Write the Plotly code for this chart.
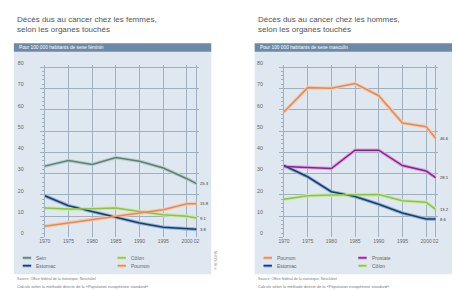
import plotly.graph_objects as go

W, H = 453, 290

# ---------------- data ----------------
years = [1970, 1975, 1980, 1985, 1990, 1995, 2000, 2002]
tick_years = [1970, 1975, 1980, 1985, 1990, 1995, 2000, 2002]
tick_text = ["1970", "1975", "1980", "1985", "1990", "1995", "2000", "02"]
y_ticks = [0, 10, 20, 30, 40, 50, 60, 70, 80]

# Femmes (pour 100 000 habitants de sexe féminin)
sein_f = [33.5, 36.1, 34.3, 37.5, 35.8, 32.6, 27.6, 25.3]
estomac_f = [19.6, 14.9, 12.2, 9.5, 6.8, 4.8, 4.1, 3.8]
colon_f = [13.8, 13.3, 13.5, 13.8, 12.2, 10.7, 10.0, 9.1]
poumon_f = [5.3, 6.8, 8.4, 9.9, 11.5, 13.0, 15.8, 15.8]

# Hommes (pour 100 000 habitants de sexe masculin)
poumon_m = [58.9, 70.4, 70.1, 72.3, 66.6, 53.8, 52.0, 46.6]
prostate_m = [33.3, 32.7, 32.4, 41.0, 41.0, 33.8, 31.2, 28.1]
estomac_m = [33.8, 28.5, 21.5, 19.2, 15.6, 11.5, 8.7, 8.6]
colon_m = [17.9, 19.6, 19.9, 20.2, 20.2, 17.2, 16.5, 13.2]

titles = [["Décès dus au cancer chez les femmes,", "selon les organes touchés"],
          ["Décès dus au cancer chez les hommes,", "selon les organes touchés"]]
headers = ["Pour 100 000 habitants de sexe féminin",
           "Pour 100 000 habitants de sexe masculin"]
source = "Source: Office fédéral de la statistique, Neuchâtel"
note = "Calculs selon la méthode directe de la «Population européenne standard»"

# (name, values, core colour, halo colour)
women = [("Sein", sein_f, "#5e807b", "#bcd0cb"),
         ("Estomac", estomac_f, "#1d3c69", "#93b6dc"),
         ("Côlon", colon_f, "#8cc548", "#cde8ae"),
         ("Poumon", poumon_f, "#e38b5c", "#f6cbab")]
men = [("Poumon", poumon_m, "#e38b5c", "#f6cbab"),
       ("Estomac", estomac_m, "#1d3c69", "#93b6dc"),
       ("Prostate", prostate_m, "#7d2a86", "#e6a3e8"),
       ("Côlon", colon_m, "#8cc548", "#cde8ae")]
# legend layout order: (row, col)
legend_women = [("Sein", 0, 0), ("Côlon", 0, 1), ("Estomac", 1, 0), ("Poumon", 1, 1)]
legend_men = [("Poumon", 0, 0), ("Prostate", 0, 1), ("Estomac", 1, 0), ("Côlon", 1, 1)]

FONT = "Liberation Sans"
GRID = "#9fb0c0"
BG = "#dfe8f0"
BAR = "#6c8aa6"

def px(x):
    return x / W

def py(y):
    return 1 - y / H

fig = go.Figure()

panels = [
    dict(series=women, legend=legend_women, xa="x", ya="y", x0=8, x1=208),
    dict(series=men, legend=legend_men, xa="x2", ya="y2", x0=252, x1=452),
]

shapes = []
annotations = []
for i, p in enumerate(panels):
    for name, vals, core, halo in p["series"]:
        fig.add_trace(go.Scatter(x=years, y=vals, mode="lines", xaxis=p["xa"], yaxis=p["ya"],
                                 line=dict(color=halo, width=3.6), hoverinfo="skip", showlegend=False))
    for name, vals, core, halo in p["series"]:
        fig.add_trace(go.Scatter(x=years, y=vals, mode="lines", xaxis=p["xa"], yaxis=p["ya"],
                                 name=name, line=dict(color=core, width=1.5), showlegend=False))
        annotations.append(dict(x=years[-1], y=vals[-1], xref=p["xa"], yref=p["ya"],
                                text=f"{vals[-1]:.1f}", showarrow=False, xanchor="left",
                                yanchor="middle", xshift=2,
                                font=dict(family=FONT, size=4.2, color="#333333")))
    # panel background + header bar
    shapes.append(dict(type="rect", xref="paper", yref="paper", x0=px(p["x0"]), x1=px(p["x1"]),
                       y0=py(274), y1=py(47), fillcolor=BG, line=dict(width=0), layer="below"))
    shapes.append(dict(type="rect", xref="paper", yref="paper", x0=px(p["x0"]), x1=px(p["x1"]),
                       y0=py(47.5), y1=py(39), fillcolor=BAR, line=dict(width=0), layer="below"))
    for j, line in enumerate(titles[i]):
        annotations.append(dict(x=px(p["x0"] + 1), y=py(15 + j * 9.5), xref="paper", yref="paper",
                                text=line, showarrow=False, xanchor="left", yanchor="middle",
                                font=dict(family=FONT, size=8, color="#555555")))
    annotations.append(dict(x=px(p["x0"] + 3.5), y=py(43.3), xref="paper", yref="paper",
                            text=headers[i], showarrow=False, xanchor="left", yanchor="middle",
                            font=dict(family=FONT, size=4.8, color="#ffffff")))
    # legend (key)
    colours = {n: (c, h) for n, v, c, h in p["series"]}
    for name, row, col in p["legend"]:
        lx = p["x0"] + 9 + col * 96
        ly = 257.3 + row * 8
        c, h = colours[name]
        shapes.append(dict(type="line", xref="paper", yref="paper", x0=px(lx), x1=px(lx + 8.5),
                           y0=py(ly), y1=py(ly), line=dict(color=h, width=3.5)))
        shapes.append(dict(type="line", xref="paper", yref="paper", x0=px(lx), x1=px(lx + 8.5),
                           y0=py(ly), y1=py(ly), line=dict(color=c, width=1.5)))
        annotations.append(dict(x=px(lx + 11.5), y=py(ly), xref="paper", yref="paper", text=name,
                                showarrow=False, xanchor="left", yanchor="middle",
                                font=dict(family=FONT, size=5, color="#666666")))
    annotations.append(dict(x=px(p["x0"] + 1), y=py(278.5), xref="paper", yref="paper", text=source,
                            showarrow=False, xanchor="left", yanchor="middle",
                            font=dict(family=FONT, size=3.6, color="#777777")))
    annotations.append(dict(x=px(p["x0"] + 1), y=py(286), xref="paper", yref="paper", text=note,
                            showarrow=False, xanchor="left", yanchor="middle",
                            font=dict(family=FONT, size=4.0, color="#777777")))

annotations.append(dict(x=px(212), y=py(260), xref="paper", yref="paper", text="© HLS/DHS",
                        showarrow=False, textangle=-90, xanchor="center", yanchor="middle",
                        font=dict(family=FONT, size=3.5, color="#777777")))

ydom = [py(236.5), py(236.5 - 81 * 2.165)]
common_x = dict(range=[1970, 2002.6], tickvals=tick_years, ticktext=tick_text, showgrid=True,
                gridcolor=GRID, gridwidth=1, zeroline=False, showline=False, ticks="",
                tickangle=0, tickfont=dict(family=FONT, size=5, color="#666666"),
                ticklabelstandoff=0)
common_y = dict(range=[0, 81], domain=ydom, tickvals=y_ticks, showgrid=True, gridcolor=GRID,
                gridwidth=1, zeroline=False, showline=True, linecolor=GRID, linewidth=1,
                ticks="outside", ticklen=4, tickcolor=GRID,
                minor=dict(dtick=2, ticks="outside", ticklen=2, tickcolor=GRID, showgrid=False),
                ticklabelposition="outside", ticklabelstandoff=15, ticklabelshift=-4,
                tickfont=dict(family=FONT, size=5.3, color="#666666"))

fig.update_layout(
    width=W, height=H, autosize=False,
    margin=dict(l=0, r=0, t=0, b=0),
    paper_bgcolor="#ffffff", plot_bgcolor="rgba(0,0,0,0)",
    showlegend=False,
    xaxis=dict(domain=[px(39.3), px(39.3 + 32.6 * 4.803)], anchor="y", **common_x),
    yaxis=dict(anchor="x", **common_y),
    xaxis2=dict(domain=[px(281.7), px(281.7 + 32.6 * 4.803)], anchor="y2", **common_x),
    yaxis2=dict(anchor="x2", **common_y),
    shapes=shapes,
    annotations=annotations,
)

fig.write_html("out.html", config={"displayModeBar": False},
               post_script="document.body.style.margin='0';document.body.style.overflow='hidden';")
